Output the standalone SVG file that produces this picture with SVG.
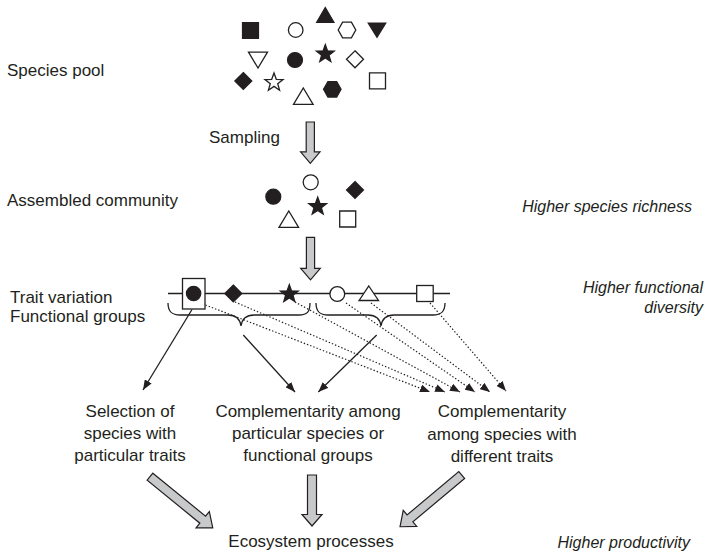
<svg xmlns="http://www.w3.org/2000/svg" width="706" height="556" viewBox="0 0 706 556">
<style>
text{font-family:"Liberation Sans",Arial,sans-serif;font-size:17px;fill:#231f20}
.it{font-style:italic;font-size:16px}
.mid{text-anchor:middle}
.end{text-anchor:end}
.f{fill:#231f20;stroke:#231f20;stroke-width:1.2}
.o{fill:#fff;stroke:#231f20;stroke-width:1.3}
.ln{fill:none;stroke:#231f20;stroke-width:1.3}
.sol{fill:none;stroke:#231f20;stroke-width:1.3}
.dot{fill:none;stroke:#231f20;stroke-width:1.2;stroke-dasharray:1.4 2}
.blk{fill:#c8c9ca;stroke:#231f20;stroke-width:1.2;stroke-linejoin:miter}
</style>
<defs>
<marker id="ah" viewBox="0 0 10 8" refX="10" refY="4" markerWidth="10" markerHeight="8" markerUnits="userSpaceOnUse" orient="auto">
<path d="M0,0 L10,4 L0,8 Z" fill="#231f20"/>
</marker>
<path id="star" d="M0,-9.5 L2.29,-3.16 L9.03,-2.94 L3.71,1.21 L5.58,7.69 L0,3.9 L-5.58,7.69 L-3.71,1.21 L-9.03,-2.94 L-2.29,-3.16 Z"/>
<path id="hex" d="M-8.8,0 L-4.4,-7.8 L4.4,-7.8 L8.8,0 L4.4,7.8 L-4.4,7.8 Z"/>
<path id="dia" d="M0,-8.5 L8.5,0 L0,8.5 L-8.5,0 Z"/>
<path id="sq" d="M-8,-8 H8 V8 H-8 Z"/>
<path id="tri" d="M0,-8.5 L9.8,7.8 L-9.8,7.8 Z"/>
<path id="dtri" d="M-9.5,-7.8 L9.5,-7.8 L0,8 Z"/>
</defs>

<!-- Labels -->
<g id="labels">
<text x="7" y="76">Species pool</text>
<text x="209" y="143">Sampling</text>
<text x="7" y="206">Assembled community</text>
<text x="10" y="303">Trait variation</text>
<text x="10" y="322">Functional groups</text>
<text class="it end" x="692" y="212">Higher species richness</text>
<text class="it end" x="703" y="293">Higher functional</text>
<text class="it end" x="703" y="313">diversity</text>
<text class="it end" x="690" y="548">Higher productivity</text>
</g>

<!-- Species pool -->
<g id="species-pool">
<use href="#sq" class="f" x="250.5" y="30.5"/>
<circle class="o" cx="295.7" cy="30" r="7.3"/>
<path class="f" d="M325.3,7.5 L334,22.5 L316.6,22.5 Z"/>
<use href="#hex" class="o" x="347" y="30"/>
<path class="f" d="M368.2,23 L385.8,23 L377,37.3 Z"/>
<use href="#dtri" class="o" x="258" y="60"/>
<circle class="f" cx="295" cy="60" r="7.5"/>
<use href="#star" class="f" x="325.3" y="54"/>
<use href="#dia" class="o" x="355" y="59.3"/>
<use href="#dia" class="f" x="243.3" y="81"/>
<use href="#star" class="o" x="274" y="82.5"/>
<use href="#tri" class="o" x="303.3" y="96.5"/>
<use href="#hex" class="f" x="332.3" y="89.3"/>
<use href="#sq" class="o" x="377.5" y="80.8"/>
</g>

<!-- Sampling arrow -->
<g id="sampling-arrow">
<path class="blk" d="M306.2,122 L314.4,122 L314.4,151.8 L320,151.8 L310.3,163.3 L300.6,151.8 L306.2,151.8 Z"/>
</g>

<!-- Assembled community -->
<g id="community">
<circle class="o" cx="310.7" cy="182.3" r="7.5"/>
<circle class="f" cx="273.3" cy="196.7" r="7.5"/>
<use href="#dia" class="f" x="355" y="190"/>
<use href="#star" class="f" x="317.7" y="206.5"/>
<use href="#tri" class="o" x="288.8" y="219.5"/>
<use href="#sq" class="o" x="347.7" y="219"/>
</g>

<!-- Second arrow -->
<g id="community-arrow">
<path class="blk" d="M306.4,237.3 L314.6,237.3 L314.6,268.3 L320.3,268.3 L310.5,279.8 L300.7,268.3 L306.4,268.3 Z"/>
</g>

<!-- Trait axis -->
<g id="trait-axis">
<line class="ln" x1="168" y1="293.5" x2="450" y2="293.5"/>
<rect class="o" x="182.5" y="278.5" width="22.5" height="30.5"/>
<circle class="f" cx="193.6" cy="293.5" r="7.2"/>
<use href="#dia" class="f" x="233.3" y="293.5"/>
<use href="#star" class="f" x="289.3" y="294"/>
<circle class="o" cx="337.3" cy="294" r="7.4"/>
<path class="o" d="M368.8,286 L378.5,300.5 L359.1,300.5 Z"/>
<rect class="o" x="416.7" y="285.5" width="16.5" height="16"/>
</g>

<!-- Braces -->
<g id="braces">
<path class="ln" d="M168,303 C168,312 172,315 180,315 L228,315 C236,315 240,319 241,326 C242,319 246,315 254,315 L299,315 C307,315 310,312 310,303"/>
<path class="ln" d="M316,303 C316,312 320,315 328,315 L368,315 C376,315 380,319 381,326 C382,319 386,315 394,315 L433,315 C441,315 445,312 445,303"/>
</g>

<!-- Connectors -->
<g id="connectors">
<line class="sol" x1="192" y1="309.5" x2="143" y2="390" marker-end="url(#ah)"/>
<line class="sol" x1="243.3" y1="335" x2="295" y2="392" marker-end="url(#ah)"/>
<line class="sol" x1="376.7" y1="335" x2="318.3" y2="392" marker-end="url(#ah)"/>
<line class="dot" x1="205.5" y1="305" x2="430" y2="392" marker-end="url(#ah)"/>
<line class="dot" x1="235" y1="302" x2="445" y2="392" marker-end="url(#ah)"/>
<line class="dot" x1="295" y1="302" x2="460" y2="392" marker-end="url(#ah)"/>
<line class="dot" x1="346" y1="303" x2="475" y2="392" marker-end="url(#ah)"/>
<line class="dot" x1="371" y1="303" x2="490" y2="392" marker-end="url(#ah)"/>
<line class="dot" x1="430" y1="303" x2="506" y2="391" marker-end="url(#ah)"/>
</g>

<!-- Mechanism nodes -->
<g id="selection">
<text class="mid" x="130" y="417">Selection of</text>
<text class="mid" x="130" y="439">species with</text>
<text class="mid" x="130" y="461">particular traits</text>
</g>
<g id="complementarity-groups">
<text class="mid" x="308" y="417">Complementarity among</text>
<text class="mid" x="308" y="439">particular species or</text>
<text class="mid" x="308" y="461">functional groups</text>
</g>
<g id="complementarity-traits">
<text class="mid" x="502" y="417">Complementarity</text>
<text class="mid" x="502" y="440">among species with</text>
<text class="mid" x="502" y="462">different traits</text>
</g>

<!-- Bottom block arrows -->
<g id="bottom-arrows">
<path class="blk" transform="translate(150,476.7) rotate(39.2)" d="M0,-4.5 L68,-4.5 L68,-10.5 L81,0 L68,10.5 L68,4.5 L0,4.5 Z"/>
<path class="blk" d="M307.5,475 L316.5,475 L316.5,514.5 L322,514.5 L312,526 L302,514.5 L307.5,514.5 Z"/>
<path class="blk" transform="translate(461.7,475) rotate(140)" d="M0,-4.5 L67.5,-4.5 L67.5,-10.5 L80.5,0 L67.5,10.5 L67.5,4.5 L0,4.5 Z"/>
</g>

<g id="ecosystem">
<text class="mid" x="311" y="547">Ecosystem processes</text>
</g>
</svg>
